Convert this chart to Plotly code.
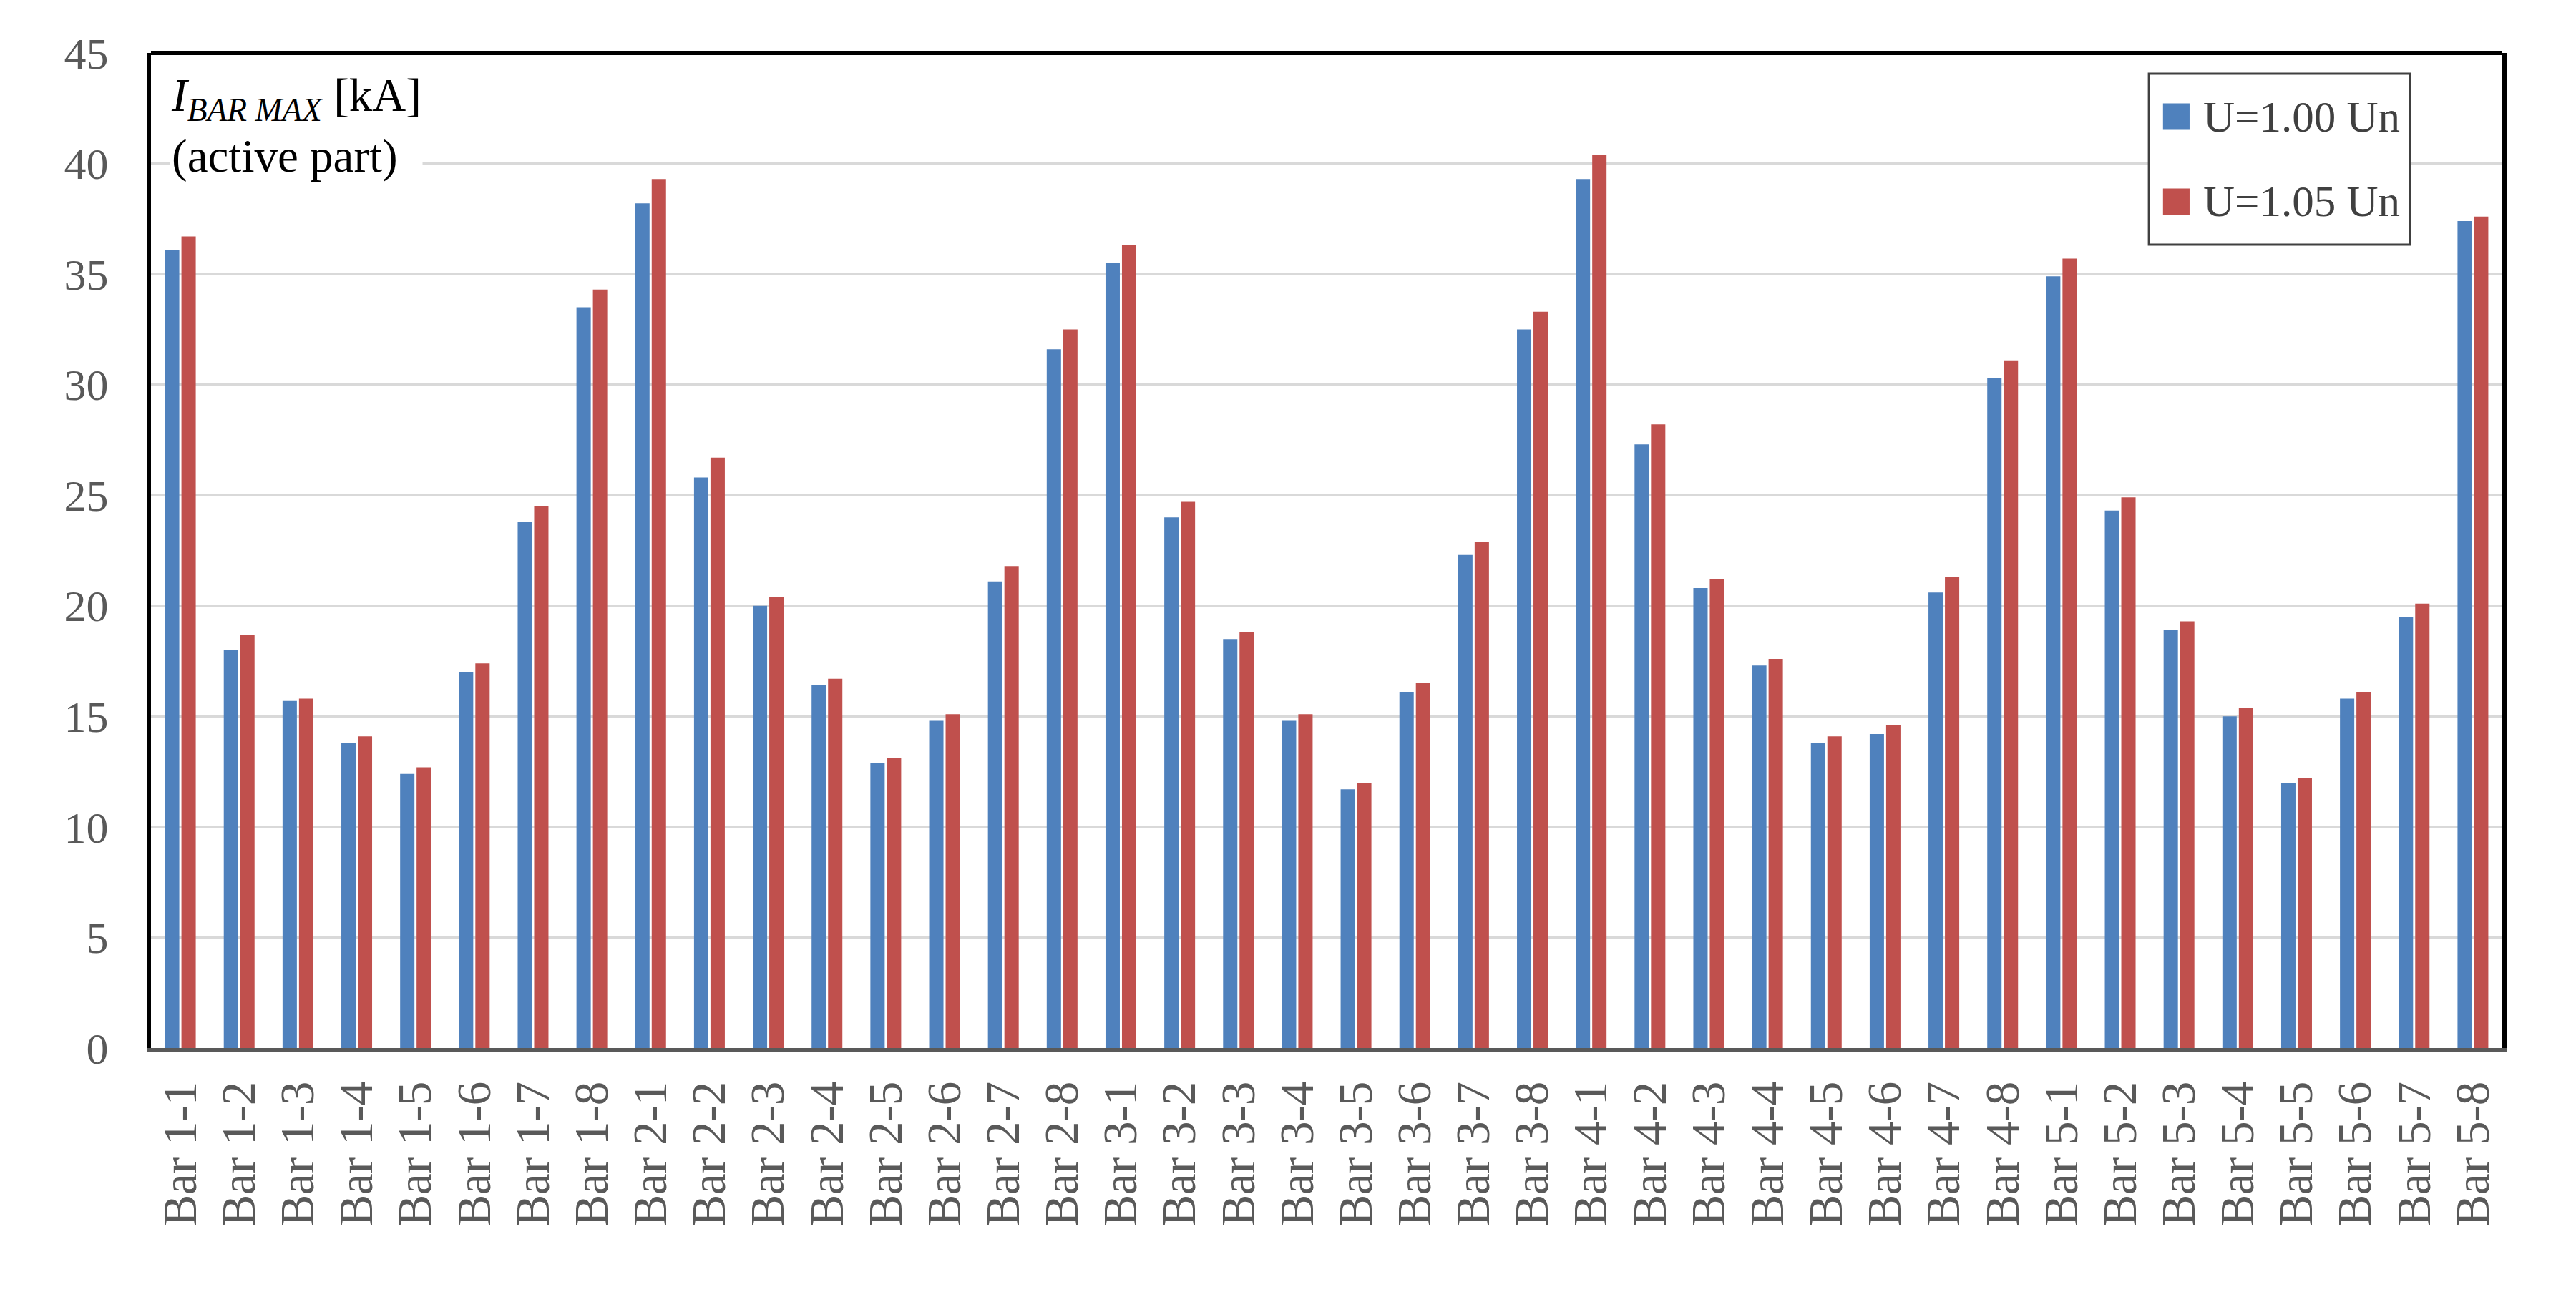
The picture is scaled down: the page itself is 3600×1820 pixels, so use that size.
import plotly.graph_objects as go

categories = [
    "Bar 1-1", "Bar 1-2", "Bar 1-3", "Bar 1-4", "Bar 1-5", "Bar 1-6", "Bar 1-7", "Bar 1-8",
    "Bar 2-1", "Bar 2-2", "Bar 2-3", "Bar 2-4", "Bar 2-5", "Bar 2-6", "Bar 2-7", "Bar 2-8",
    "Bar 3-1", "Bar 3-2", "Bar 3-3", "Bar 3-4", "Bar 3-5", "Bar 3-6", "Bar 3-7", "Bar 3-8",
    "Bar 4-1", "Bar 4-2", "Bar 4-3", "Bar 4-4", "Bar 4-5", "Bar 4-6", "Bar 4-7", "Bar 4-8",
    "Bar 5-1", "Bar 5-2", "Bar 5-3", "Bar 5-4", "Bar 5-5", "Bar 5-6", "Bar 5-7", "Bar 5-8",
]

u100 = [36.1, 18.0, 15.7, 13.8, 12.4, 17.0, 23.8, 33.5,
        38.2, 25.8, 20.0, 16.4, 12.9, 14.8, 21.1, 31.6,
        35.5, 24.0, 18.5, 14.8, 11.7, 16.1, 22.3, 32.5,
        39.3, 27.3, 20.8, 17.3, 13.8, 14.2, 20.6, 30.3,
        34.9, 24.3, 18.9, 15.0, 12.0, 15.8, 19.5, 37.4]

u105 = [36.7, 18.7, 15.8, 14.1, 12.7, 17.4, 24.5, 34.3,
        39.3, 26.7, 20.4, 16.7, 13.1, 15.1, 21.8, 32.5,
        36.3, 24.7, 18.8, 15.1, 12.0, 16.5, 22.9, 33.3,
        40.4, 28.2, 21.2, 17.6, 14.1, 14.6, 21.3, 31.1,
        35.7, 24.9, 19.3, 15.4, 12.2, 16.1, 20.1, 37.6]

series_names = ["U=1.00 Un", "U=1.05 Un"]
series_colors = ["#4F81BD", "#C0504D"]

y_ticks = [0, 5, 10, 15, 20, 25, 30, 35, 40, 45]

FONT = "Liberation Serif"
TICK_COLOR = "#595959"

fig = go.Figure()
for name, vals, col in zip(series_names, [u100, u105], series_colors):
    fig.add_trace(go.Bar(
        x=categories, y=vals, name=name,
        marker=dict(color=col, line=dict(width=0)),
        showlegend=False,
    ))

fig.update_layout(
    width=3600, height=1820,
    margin=dict(l=203, r=111, t=66, b=363, autoexpand=False),
    paper_bgcolor="white", plot_bgcolor="white",
    barmode="group", bargap=0.44, bargroupgap=0.13,
    font=dict(family=FONT, size=62, color=TICK_COLOR),
)

fig.update_yaxes(
    range=[0, 45], tickvals=y_ticks, ticktext=[str(v) for v in y_ticks],
    showgrid=True, gridcolor="#D9D9D9", gridwidth=3,
    zeroline=False,
    showline=True, linecolor="black", linewidth=6, mirror=True,
    ticks="", ticklabelstandoff=41,
    tickfont=dict(family=FONT, size=62, color=TICK_COLOR),
)

fig.update_xaxes(
    type="category", tickangle=-90,
    showgrid=False, zeroline=False,
    showline=True, linecolor="#595959", linewidth=6,
    ticks="", ticklabelstandoff=14,
    tickfont=dict(family=FONT, size=67, color=TICK_COLOR),
)

# top border (black)
fig.add_shape(type="line", xref="paper", yref="paper", x0=0, x1=1, y0=1, y1=1,
              line=dict(color="black", width=6))

# in-chart label
fig.add_annotation(
    xref="paper", yref="paper", x=0.008, y=0.985, xanchor="left", yanchor="top",
    text="<i>I</i><sub><i>BAR MAX</i></sub> [kA]<br>(active part)",
    showarrow=False, align="left", bgcolor="white",
    font=dict(family=FONT, size=65, color="black"),
)

# legend box (drawn manually so symbols scale with the text)
lx0, lx1, ly0, ly1 = 0.8497, 0.9607, 0.8073, 0.9791
fig.add_shape(type="rect", xref="paper", yref="paper", x0=lx0, x1=lx1, y0=ly0, y1=ly1,
              line=dict(color="#404040", width=3), fillcolor="white", layer="above")
row_y = [0.936, 0.8505]
for name, col, yc in zip(series_names, series_colors, row_y):
    fig.add_shape(type="rect", xref="paper", yref="paper",
                  x0=0.8557, x1=0.8670, y0=yc - 0.0133, y1=yc + 0.0133,
                  line=dict(width=0), fillcolor=col, layer="above")
    fig.add_annotation(xref="paper", yref="paper", x=0.8722, y=yc,
                       xanchor="left", yanchor="middle", text=name, showarrow=False,
                       font=dict(family=FONT, size=61, color="#404040"))

fig.write_html("out.html")
